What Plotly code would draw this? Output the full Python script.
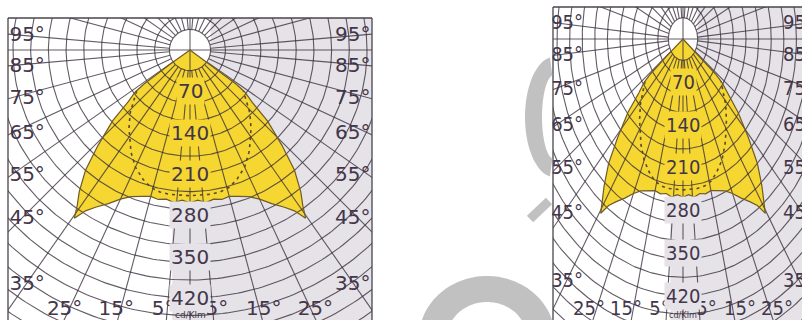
import numpy as np
import plotly.graph_objects as go

# Luminous intensity distribution (cd/klm) against angle from nadir (deg)
GAMMA_MAIN = [0, 3, 6, 9, 12, 15, 18, 22, 25, 28, 31, 33, 34.5, 36, 38, 41, 44, 47.5, 50, 52.5, 53.5, 54.5, 55]
I_MAIN = [259, 255, 260, 256, 259, 257, 261, 268, 279, 295, 311, 325, 346, 325, 305, 270, 224, 178, 137, 117, 97, 41, 0]

# Second plane, drawn dashed
GAMMA_DASH = [0, 8, 12, 16, 20, 25, 30, 33, 38, 43.6, 48, 52.5]
I_DASH = [247, 247, 246, 242, 233, 219, 200, 187, 168, 147, 129, 114]

INTENSITY_LABELS = [70, 140, 210, 280, 350, 420]
SIDE_ANGLES = [95, 85, 75, 65, 55, 45, 35]
BOTTOM_ANGLES = [25, 15, 5]
UNIT = "cd/Klm"
RING_STEP = 30
CORE_RADIUS = 35

W, H = 802, 320
TEXT = "#43364a"
YELLOW = "#f6d630"
GREY = "#e5e2e8"

# screen layout of the two copies of the diagram
PANELS = [
    dict(xa="x", ya="y", left=8, right=372, top=18, cx=190, cy=50, sx=0.59, sy=0.59,
         font="DejaVu Sans", fs=20, border_right=True, foot=7),
    dict(xa="x2", ya="y2", left=553, right=810, top=7, cx=683, cy=39, sx=0.42, sy=0.611,
         font="Liberation Sans Narrow, DejaVu Sans Condensed, Arial Narrow, sans-serif", fs=20,
         border_right=False, foot=17),
]
EDGE = 308  # half-width of the diagram window, cd/klm
LABEL_X = 276  # horizontal position of the side angle labels, cd/klm
# side labels sit where each ray meets the frame; the two lowest are pulled inwards
LABEL_INSET = {45: 23, 35: 31}


def polar(g_deg, r):
    g = np.radians(np.asarray(g_deg, dtype=float))
    r = np.asarray(r, dtype=float)
    return r * np.sin(g), -r * np.cos(g)


# full symmetric curve for the main plane
g_full = [-g for g in GAMMA_MAIN[::-1]] + GAMMA_MAIN[1:]
i_full = I_MAIN[::-1] + I_MAIN[1:]
mx, my = polar(g_full, i_full)
dl_x, dl_y = polar([-g for g in GAMMA_DASH[::-1]] + GAMMA_DASH[1:], I_DASH[::-1] + I_DASH[1:])

# polar grid: clear core, rings every RING_STEP, spokes at 5, 15, 25 ... plus the two axes
gx, gy = [], []
t = np.linspace(0, 2 * np.pi, 361)
radii = [CORE_RADIUS] + list(range(2 * RING_STEP, 800, RING_STEP))
for r in radii:
    gx += list(r * np.cos(t)) + [None]
    gy += list(r * np.sin(t)) + [None]
spoke_angles = sorted(set(list(range(5, 360, 10)) + [0, 90, 180, 270]))
for a in spoke_angles:
    r0 = 0 if a % 90 == 0 else CORE_RADIUS
    x0, y0 = polar(a, r0)
    x1, y1 = polar(a, 900)
    gx += [float(x0), float(x1), None]
    gy += [float(y0), float(y1), None]

fig = go.Figure()
shapes = []
annotations = []
layout_axes = {}

for i, p in enumerate(PANELS):
    xa, ya = p["xa"], p["ya"]
    right_px = min(p["right"], W)
    xr = [(p["left"] - p["cx"]) / p["sx"], (right_px - p["cx"]) / p["sx"]]
    yr = [-(H - p["cy"]) / p["sy"], (p["cy"] - p["top"]) / p["sy"]]
    xname = "xaxis" if i == 0 else "xaxis2"
    yname = "yaxis" if i == 0 else "yaxis2"
    layout_axes[xname] = dict(domain=[p["left"] / W, right_px / W], range=xr, visible=False,
                              fixedrange=True, anchor=ya)
    layout_axes[yname] = dict(domain=[0, 1 - p["top"] / H], range=yr, visible=False,
                              fixedrange=True, anchor=xa)

    # shaded half and the clear disc around the source
    shapes.append(dict(type="rect", xref=xa, yref=ya, x0=-30, x1=900, y0=-900, y1=0,
                       fillcolor=GREY, line_width=0, layer="below"))
    shapes.append(dict(type="rect", xref=xa, yref=ya, x0=CORE_RADIUS, x1=900, y0=0, y1=200,
                       fillcolor=GREY, line_width=0, layer="below"))
    shapes.append(dict(type="circle", xref=xa, yref=ya, x0=-CORE_RADIUS, x1=CORE_RADIUS,
                       y0=-CORE_RADIUS, y1=CORE_RADIUS, fillcolor="white", line_width=0,
                       layer="below"))

    fig.add_trace(go.Scatter(x=mx, y=my, xaxis=xa, yaxis=ya, mode="lines", fill="toself",
                             fillcolor=YELLOW, line=dict(width=0), hoverinfo="skip",
                             showlegend=False))
    fig.add_trace(go.Scatter(x=gx, y=gy, xaxis=xa, yaxis=ya, mode="lines",
                             line=dict(color="rgba(55,45,58,0.78)", width=1.1),
                             hoverinfo="skip", showlegend=False))
    fig.add_trace(go.Scatter(x=dl_x, y=dl_y, xaxis=xa, yaxis=ya, mode="lines",
                             line=dict(color="#5a4a2a", width=1.6, dash="3px,4px"),
                             hoverinfo="skip", showlegend=False))
    fig.add_trace(go.Scatter(x=mx, y=my, xaxis=xa, yaxis=ya, mode="lines",
                             line=dict(color="#6e5a2a", width=1.2),
                             hoverinfo="skip", showlegend=False))

    # angle labels on the sides and along the foot
    lx, ly, lt = [], [], []
    for a in SIDE_ANGLES:
        reach = EDGE - LABEL_INSET.get(a, 6)
        for s in (-1, 1):
            lx.append(s * LABEL_X)
            ly.append(-reach / np.tan(np.radians(a)) - 2)
            lt.append(f"{a}°")
    yb = -(310 - p["cy"]) / p["sy"]
    for a in BOTTOM_ANGLES:
        for s in (-1, 1):
            lx.append(s * (-yb * np.tan(np.radians(a)) + p["foot"]))
            ly.append(yb)
            lt.append(f"{a}°")
    fig.add_trace(go.Scatter(x=lx, y=ly, xaxis=xa, yaxis=ya, mode="text", text=lt,
                             textfont=dict(family=p["font"], size=p["fs"], color=TEXT),
                             cliponaxis=False, hoverinfo="skip", showlegend=False))

    for v in INTENSITY_LABELS:
        inside = v < I_MAIN[0]
        annotations.append(dict(x=0, y=-v, xref=xa, yref=ya, text=str(v), showarrow=False,
                                font=dict(family=p["font"], size=p["fs"], color=TEXT),
                                bgcolor=YELLOW if inside else GREY, borderpad=1))
    annotations.append(dict(x=0, y=-(315 - p["cy"]) / p["sy"], xref=xa, yref=ya, text=UNIT,
                            showarrow=False, font=dict(family=p["font"], size=9, color=TEXT)))

    # frame
    line = dict(color="#4a454d", width=1.3)
    shapes.append(dict(type="line", xref=f"{xa} domain", yref=f"{ya} domain",
                       x0=0, x1=0, y0=0, y1=1, line=line))
    shapes.append(dict(type="line", xref=f"{xa} domain", yref=f"{ya} domain",
                       x0=0, x1=1, y0=1, y1=1, line=line))
    if p["border_right"]:
        shapes.append(dict(type="line", xref=f"{xa} domain", yref=f"{ya} domain",
                           x0=1, x1=1, y0=0, y1=1, line=line))


# faint grey watermark between the two diagrams
def px_path(pts):
    return "M " + " L ".join(f"{x / W:.5f},{1 - y / H:.5f}" for x, y in pts) + " Z"


def ring_band(cx, cy, rxo, ryo, rxi, ryi, a0, a1, n=48):
    ph = np.radians(np.linspace(a0, a1, n))
    outer = [(cx + rxo * np.cos(a), cy + ryo * np.sin(a)) for a in ph]
    inner = [(cx + rxi * np.cos(a), cy + ryi * np.sin(a)) for a in ph[::-1]]
    return px_path(outer + inner)


WM = "rgba(190,190,190,0.95)"
shapes.append(dict(type="path", xref="paper", yref="paper",
                   path=ring_band(554, 117, 29, 60, 12, 42, 262, 98),
                   fillcolor=WM, line_width=0, layer="above"))
shapes.append(dict(type="path", xref="paper", yref="paper",
                   path=ring_band(487, 338, 68, 62, 40, 36, 180, 360),
                   fillcolor=WM, line_width=0, layer="above"))
shapes.append(dict(type="line", xref="paper", yref="paper",
                   x0=530 / W, y0=1 - 219 / H, x1=549 / W, y1=1 - 201 / H,
                   line=dict(color=WM, width=9), layer="above"))

fig.update_layout(width=W, height=H, margin=dict(l=0, r=0, t=0, b=0),
                  paper_bgcolor="white", plot_bgcolor="rgba(0,0,0,0)",
                  shapes=shapes, annotations=annotations, showlegend=False, **layout_axes)

fig.write_html("out.html")
